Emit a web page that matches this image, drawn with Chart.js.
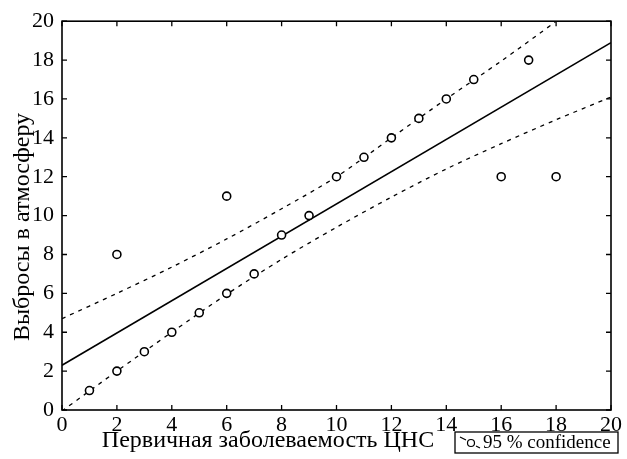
<!DOCTYPE html>
<html>
<head>
<meta charset="utf-8">
<script src="https://cdn.jsdelivr.net/npm/chart.js@4.4.1/dist/chart.umd.min.js"></script>
<style>
  html, body { margin: 0; padding: 0; background: #fff; }
  #wrap { position: relative; width: 627px; height: 459px; }
</style>
</head>
<body>
<div id="wrap"><canvas id="regChart" width="627" height="459"></canvas></div>
<script>
// Observed points
const obsX = [1, 2, 2, 3, 4, 5, 6, 6, 7, 8, 9, 10, 11, 12, 13, 14, 15, 16, 17, 18];
const obsY = [1, 2, 8, 3, 4, 5, 6, 11, 7, 9, 10, 12, 13, 14, 15, 16, 17, 12, 18, 12];

// Fitted line
const fitX = [0, 20];
const fitY = [2.3, 18.9];

// 95 % confidence band
const bandX = [0, 2, 4, 6, 8, 10, 12, 14, 16, 18, 20];
const upperY = [4.7, 6.0, 7.35, 8.8, 10.35, 12.0, 14.0, 16.0, 17.95, 20.0, 22.2];
const lowerY = [-0.05, 2.0, 4.0, 5.95, 7.75, 9.4, 10.95, 12.4, 13.7, 14.93, 16.1];

const xTicks = [0, 2, 4, 6, 8, 10, 12, 14, 16, 18, 20];
const yTicks = [0, 2, 4, 6, 8, 10, 12, 14, 16, 18, 20];

const xTitle = 'Первичная заболеваемость ЦНС';
const yTitle = 'Выбросы в атмосферу';
const legendText = '95 % confidence';

function toPoints(xs, ys) {
    return xs.map(function(x, i) { return { x: x, y: ys[i] }; });
}

const serif = "'Liberation Serif', 'DejaVu Serif', serif";

// Box, inward ticks, axis titles and the little legend
const framePlugin = {
    id: 'frame',
    afterDraw(chart) {
        const ctx = chart.ctx;
        const a = chart.chartArea;
        const xs = chart.scales.x;
        const ys = chart.scales.y;
        ctx.save();
        ctx.strokeStyle = '#000';
        ctx.lineWidth = 1.6;
        ctx.strokeRect(a.left, a.top, a.right - a.left, a.bottom - a.top);

        ctx.lineWidth = 1.3;
        ctx.beginPath();
        xTicks.forEach(function(t) {
            const px = xs.getPixelForValue(t);
            ctx.moveTo(px, a.bottom); ctx.lineTo(px, a.bottom - 5);
            ctx.moveTo(px, a.top); ctx.lineTo(px, a.top + 5);
        });
        yTicks.forEach(function(t) {
            const py = ys.getPixelForValue(t);
            ctx.moveTo(a.left, py); ctx.lineTo(a.left + 5, py);
            ctx.moveTo(a.right, py); ctx.lineTo(a.right - 5, py);
        });
        ctx.stroke();

        // axis titles
        ctx.fillStyle = '#000';
        ctx.font = '24px ' + serif;
        ctx.textAlign = 'center';
        ctx.textBaseline = 'middle';
        ctx.fillText(xTitle, 268, 441);
        ctx.save();
        ctx.translate(23, 227);
        ctx.rotate(-Math.PI / 2);
        ctx.fillText(yTitle, 0, 0);
        ctx.restore();

        // legend box
        const lx = 455, ly = 432, lw = 163, lh = 21;
        ctx.lineWidth = 1.3;
        ctx.strokeRect(lx, ly, lw, lh);
        ctx.lineWidth = 1.2;
        ctx.beginPath();
        ctx.moveTo(lx + 5, ly + 5);
        ctx.lineTo(lx + 11, ly + 8);
        ctx.moveTo(lx + 21, ly + 14);
        ctx.lineTo(lx + 25, ly + 16);
        ctx.stroke();
        ctx.beginPath();
        ctx.arc(lx + 16, ly + 11, 3.5, 0, Math.PI * 2);
        ctx.fillStyle = '#fff';
        ctx.fill();
        ctx.stroke();
        ctx.fillStyle = '#000';
        ctx.font = '19px ' + serif;
        ctx.textAlign = 'left';
        ctx.fillText(legendText, lx + 28, ly + lh / 2 + 1);
        ctx.restore();
    }
};

const dashed = {
    showLine: true,
    borderColor: '#000',
    borderWidth: 1.3,
    borderDash: [4, 5],
    pointRadius: 0,
    fill: false,
    tension: 0.3
};

new Chart(document.getElementById('regChart').getContext('2d'), {
    type: 'scatter',
    data: {
        datasets: [
            {
                label: 'data',
                data: toPoints(obsX, obsY),
                pointStyle: 'circle',
                pointRadius: 4,
                pointBorderWidth: 1.6,
                pointBorderColor: '#000',
                pointBackgroundColor: '#fff'
            },
            {
                label: 'fit',
                data: toPoints(fitX, fitY),
                showLine: true,
                borderColor: '#000',
                borderWidth: 1.6,
                pointRadius: 0
            },
            Object.assign({ label: 'upper', data: toPoints(bandX, upperY) }, dashed),
            Object.assign({ label: 'lower', data: toPoints(bandX, lowerY) }, dashed)
        ]
    },
    options: {
        responsive: false,
        animation: false,
        layout: { padding: { left: 0, top: 17, right: 16, bottom: 0 } },
        plugins: {
            legend: { display: false },
            tooltip: { enabled: false }
        },
        scales: {
            x: {
                type: 'linear',
                min: 0,
                max: 20,
                afterFit: function(scale) { scale.height = 49; },
                afterBuildTicks: function(scale) {
                    scale.ticks = xTicks.map(function(v) { return { value: v }; });
                },
                grid: { display: false, drawTicks: false },
                border: { display: false },
                ticks: {
                    color: '#000',
                    padding: 2,
                    maxRotation: 0,
                    autoSkip: false,
                    font: { family: serif, size: 22 }
                }
            },
            y: {
                type: 'linear',
                min: 0,
                max: 20,
                afterFit: function(scale) { scale.width = 62; },
                afterBuildTicks: function(scale) {
                    scale.ticks = yTicks.map(function(v) { return { value: v }; });
                },
                grid: { display: false, drawTicks: false },
                border: { display: false },
                ticks: {
                    color: '#000',
                    padding: 8,
                    autoSkip: false,
                    font: { family: serif, size: 22 }
                }
            }
        }
    },
    plugins: [framePlugin]
});
</script>
</body>
</html>
